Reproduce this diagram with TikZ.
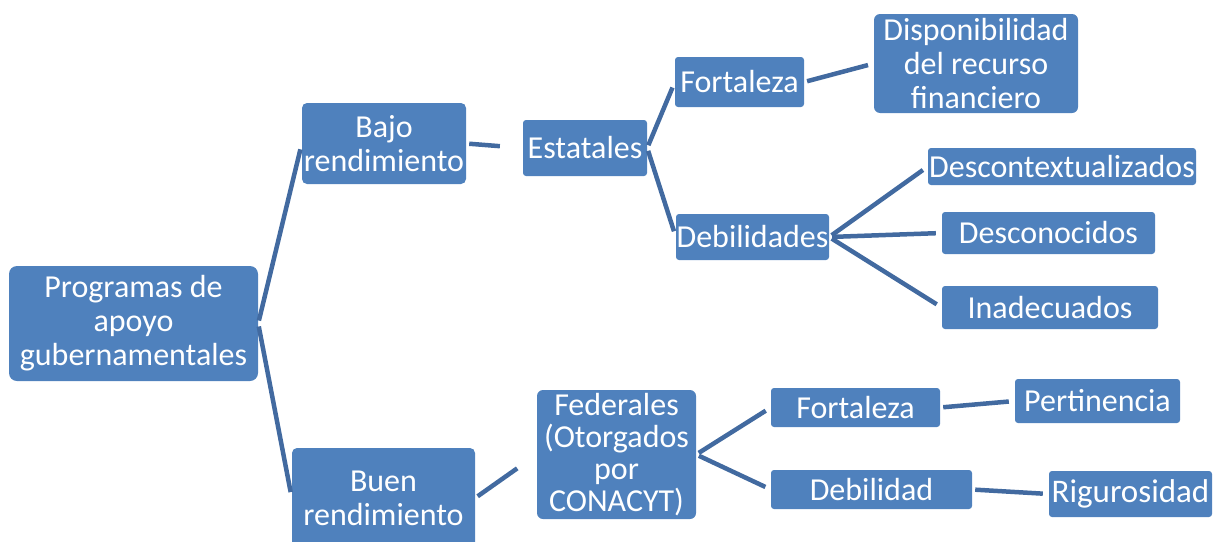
\documentclass[tikz,border=0pt]{standalone}
\usepackage{fontspec}
\setmainfont{Carlito}
\definecolor{boxblue}{RGB}{79,129,189}
\definecolor{linkblue}{RGB}{66,106,160}

\begin{document}
\begin{tikzpicture}[x=1pt,y=-1pt,
      box/.style={fill=boxblue,text=white,align=center,inner sep=0pt,rounded corners=3pt,
        font=\fontsize{32}{34}\selectfont},
      link/.style={draw=linkblue,line width=4.5pt,shorten <=3pt,shorten >=6pt}]
      \useasboundingbox (0,0) rectangle (1225,541);
      \node[box,minimum width=249pt,minimum height=115pt,rounded corners=8pt] (prog) at (133.5,323.5) {Programas de\\apoyo\\gubernamentales};
      \node[box,minimum width=164pt,minimum height=81pt,rounded corners=5pt] (bajo) at (384,143.5) {Bajo\\rendimiento};
      \node[box,minimum width=183pt,minimum height=100pt,rounded corners=5pt] (buen) at (383.5,498) {Buen\\rendimiento};
      \node[box,minimum width=124pt,minimum height=56pt] (estat) at (585,148) {Estatales};
      \node[box,minimum width=159pt,minimum height=129pt,rounded corners=6pt,font=\fontsize{32}{32}\selectfont] (feder) at (616.5,454.5) {Federales\\(Otorgados\\por\\CONACYT)};
      \node[box,minimum width=129pt,minimum height=50pt] (fortA) at (739.5,82) {Fortaleza};
      \node[box,minimum width=153pt,minimum height=46pt] (debA) at (752.5,237) {Debilidades};
      \node[box,minimum width=204pt,minimum height=99pt,rounded corners=6pt] (dispo) at (976,63.5) {Disponibilidad\\del recurso\\financiero};
      \node[box,minimum width=268pt,minimum height=37pt] (descx) at (1062,166.5) {Descontextualizados};
      \node[box,minimum width=213pt,minimum height=42pt] (desco) at (1048.5,233) {Desconocidos};
      \node[box,minimum width=216pt,minimum height=43pt] (inade) at (1050,307.5) {Inadecuados};
      \node[box,minimum width=169pt,minimum height=39pt] (fortB) at (855.5,407.5) {Fortaleza};
      \node[box,minimum width=201pt,minimum height=39pt] (debB) at (871.5,489.5) {Debilidad};
      \node[box,minimum width=165pt,minimum height=44pt] (perti) at (1097.5,401) {Pertinencia};
      \node[box,minimum width=163pt,minimum height=46pt,font=\fontsize{33}{34}\selectfont] (rigur) at (1130.5,494) {Rigurosidad};
      \draw[link] (prog.east) -- (bajo.west);
      \draw[link] (prog.east) -- (buen.west);
      \draw[link,shorten >=23pt] (bajo.east) -- (estat.west);
      \draw[link,shorten >=24pt] (buen.east) -- (feder.west);
      \draw[link] (estat.east) -- (fortA.west);
      \draw[link] (estat.east) -- (debA.west);
      \draw[link] (fortA.east) -- (dispo.west);
      \draw[link] (debA.east) -- (descx.west);
      \draw[link] (debA.east) -- (desco.west);
      \draw[link] (debA.east) -- (inade.west);
      \draw[link] (feder.east) -- (fortB.west);
      \draw[link] (feder.east) -- (debB.west);
      \draw[link] (fortB.east) -- (perti.west);
      \draw[link] (debB.east) -- (rigur.west);
\end{tikzpicture}
\end{document}
